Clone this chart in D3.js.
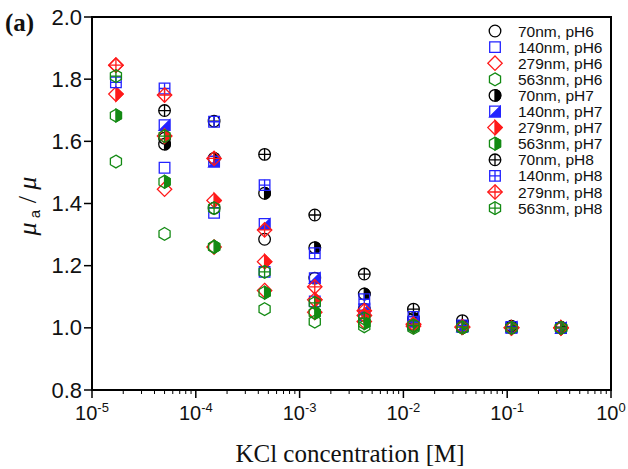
<!DOCTYPE html>
<html>
<head>
<meta charset="utf-8">
<script src="https://cdn.jsdelivr.net/npm/d3@7"></script>
<style>
  body { margin: 0; background: #fff; }
  svg { display: block; }
  .sans { font-family: "Liberation Sans", Arimo, Arial, Helvetica, sans-serif; }
  .serif { font-family: "Liberation Serif", "Times New Roman", Times, serif; }
</style>
</head>
<body>
<svg id="chart" width="628" height="469"></svg>
<script>
// KCl concentrations (M)
const conc = [1.7e-5, 5.0e-5, 1.5e-4, 4.6e-4, 1.4e-3, 4.2e-3, 1.25e-2, 3.7e-2, 1.1e-1, 3.3e-1]

// series: size, pH, values of mu_a / mu (null = not measured)
const labels = ['70nm, pH6', '140nm, pH6', '279nm, pH6', '563nm, pH6',
  '70nm, pH7', '140nm, pH7', '279nm, pH7', '563nm, pH7',
  '70nm, pH8', '140nm, pH8', '279nm, pH8', '563nm, pH8']

const v70pH6 = [null, 1.61, 1.385, 1.285, 1.16, 1.06, 1.01, 1.005, 1.0, 1.0]
const v140pH6 = [null, 1.515, 1.37, 1.18, 1.085, 1.04, 1.01, 1.003, 1.0, 1.0]
const v279pH6 = [1.845, 1.446, 1.26, 1.12, 1.05, 1.02, 1.005, 1.002, 1.0, 1.0]
const v563pH6 = [1.535, 1.302, 1.26, 1.06, 1.02, 1.005, 1.0, 1.0, 1.0, 1.0]
const v70pH7 = [null, 1.591, 1.545, 1.433, 1.258, 1.109, 1.03, 1.005, 1.002, 1.0]
const v140pH7 = [null, 1.652, 1.535, 1.334, 1.16, 1.06, 1.02, 1.005, 1.002, 1.0]
const v279pH7 = [1.752, 1.617, 1.41, 1.213, 1.09, 1.04, 1.01, 1.003, 1.0, 1.0]
const v563pH7 = [1.683, 1.47, 1.261, 1.113, 1.048, 1.015, 1.005, 1.0, 1.0, 1.0]
const v70pH8 = [null, 1.699, 1.665, 1.558, 1.363, 1.173, 1.06, 1.023, 1.005, 1.002]
const v140pH8 = [1.79, 1.77, 1.663, 1.459, 1.24, 1.092, 1.035, 1.008, 1.003, 1.0]
const v279pH8 = [1.845, 1.749, 1.545, 1.315, 1.132, 1.055, 1.012, 1.003, 1.0, 1.0]
const v563pH8 = [1.81, 1.617, 1.385, 1.18, 1.08, 1.03, 1.008, 1.002, 1.0, 1.0]

const values = [v70pH6, v140pH6, v279pH6, v563pH6, v70pH7, v140pH7, v279pH7, v563pH7, v70pH8, v140pH8, v279pH8, v563pH8]

const xTicks = [1e-5, 1e-4, 1e-3, 1e-2, 1e-1, 1]
const xTickExp = ['-5', '-4', '-3', '-2', '-1', '0']
const yTicks = [0.8, 1.0, 1.2, 1.4, 1.6, 1.8, 2.0]

const colors = ['#000', '#2323ff', '#ff1a1a', '#138a13']
const shapes = ['circle', 'square', 'diamond', 'hexagon']
const fills = ['open', 'half', 'cross']

const svg = d3.select('#chart')
const margin = { top: 17, right: 17, bottom: 79, left: 92 }
const width = 628 - margin.left - margin.right
const height = 469 - margin.top - margin.bottom

const x = d3.scaleLog().domain([1e-5, 1]).range([margin.left, margin.left + width])
const y = d3.scaleLinear().domain([0.8, 2.0]).range([margin.top + height, margin.top])

// outline + optional half fill / cross for one marker
function marker (g, shape, mode, color) {
  let outline, half, cx, cy
  if (shape === 'circle') {
    const r = 5.8
    outline = `M${r},0A${r},${r} 0 1 1 ${-r},0A${r},${r} 0 1 1 ${r},0Z`
    half = `M0,${-r}A${r},${r} 0 0 1 0,${r}Z`
    cx = cy = r
  } else if (shape === 'square') {
    const s = 5.3
    outline = `M${-s},${-s}H${s}V${s}H${-s}Z`
    half = `M${s},${-s}L${s},${s}L${-s},${s}Z`
    cx = cy = s
  } else if (shape === 'diamond') {
    const d = 7.2
    outline = `M0,${-d}L${d},0L0,${d}L${-d},0Z`
    half = `M0,${-d}L${d},0L0,${d}Z`
    cx = cy = d
  } else {
    const r = 6.4
    const c = r * Math.cos(Math.PI / 6)
    outline = `M0,${-r}L${c},${-r / 2}L${c},${r / 2}L0,${r}L${-c},${r / 2}L${-c},${-r / 2}Z`
    half = `M0,${-r}L${c},${-r / 2}L${c},${r / 2}L0,${r}Z`
    cx = c
    cy = r
  }
  g.append('path').attr('d', outline).attr('fill', 'none').attr('stroke', color).attr('stroke-width', 1.3)
  if (mode === 'half') {
    g.append('path').attr('d', half).attr('fill', color).attr('stroke', color).attr('stroke-width', 1.3)
  }
  if (mode === 'cross') {
    g.append('path')
      .attr('d', `M${-cx},0H${cx}M0,${-cy}V${cy}`)
      .attr('stroke', color).attr('stroke-width', 1.3)
  }
}

// data points
values.forEach((vals, i) => {
  const shape = shapes[i % 4]
  const mode = fills[Math.floor(i / 4)]
  const color = colors[i % 4]
  vals.forEach((v, j) => {
    if (v === null) return
    const g = svg.append('g').attr('transform', `translate(${x(conc[j])},${y(v)})`)
    marker(g, shape, mode, color)
  })
})

// frame
svg.append('rect')
  .attr('x', margin.left).attr('y', margin.top)
  .attr('width', width).attr('height', height)
  .attr('fill', 'none').attr('stroke', '#000').attr('stroke-width', 2)

// x axis
const xAxis = svg.append('g')
xTicks.forEach((t, i) => {
  xAxis.append('line').attr('x1', x(t)).attr('x2', x(t))
    .attr('y1', margin.top + height).attr('y2', margin.top + height + 8)
    .attr('stroke', '#000').attr('stroke-width', 1.5)
  const lab = xAxis.append('text')
    .attr('class', 'sans')
    .attr('x', x(t)).attr('y', margin.top + height + 30)
    .attr('text-anchor', 'middle')
    .attr('font-size', 20).attr('fill', '#111')
  lab.append('tspan').text('10')
  lab.append('tspan').attr('dy', -8).attr('font-size', 13).text(xTickExp[i])
})
for (let e = -5; e < 0; e++) {
  for (let k = 2; k <= 9; k++) {
    const t = k * Math.pow(10, e)
    xAxis.append('line').attr('x1', x(t)).attr('x2', x(t))
      .attr('y1', margin.top + height).attr('y2', margin.top + height + 4)
      .attr('stroke', '#000').attr('stroke-width', 1)
  }
}

// y axis
const yAxis = svg.append('g')
yTicks.forEach((t) => {
  yAxis.append('line').attr('x1', margin.left - 8).attr('x2', margin.left)
    .attr('y1', y(t)).attr('y2', y(t))
    .attr('stroke', '#000').attr('stroke-width', 1.5)
  yAxis.append('text')
    .attr('class', 'sans')
    .attr('x', margin.left - 10).attr('y', y(t) + 7.5)
    .attr('text-anchor', 'end')
    .attr('font-size', 22).attr('fill', '#111')
    .text(t.toFixed(1))
})

// axis titles
svg.append('text')
  .attr('class', 'serif')
  .attr('x', 350).attr('y', 462)
  .attr('text-anchor', 'middle')
  .attr('font-size', 25).attr('fill', '#111')
  .text('KCl concentration [M]')

const yt = svg.append('text')
  .attr('class', 'serif')
  .attr('transform', 'translate(36,206) rotate(-90)')
  .attr('text-anchor', 'middle')
  .attr('font-size', 26).attr('fill', '#111')
yt.append('tspan').attr('font-style', 'italic').text('μ')
yt.append('tspan').attr('class', 'sans').attr('dy', 4).attr('font-size', 15).text(' a')
yt.append('tspan').attr('dy', -4).text(' / ')
yt.append('tspan').attr('font-style', 'italic').text('μ')

svg.append('text')
  .attr('class', 'serif')
  .attr('x', 5).attr('y', 31)
  .attr('font-weight', 'bold')
  .attr('font-size', 25).attr('fill', '#111')
  .text('(a)')

// legend
const legend = svg.append('g')
labels.forEach((lab, i) => {
  const ly = 31 + i * 16.1
  const g = legend.append('g').attr('transform', `translate(495,${ly})`)
  marker(g, shapes[i % 4], fills[Math.floor(i / 4)], colors[i % 4])
  legend.append('text')
    .attr('class', 'sans')
    .attr('x', 518).attr('y', ly + 5.5)
    .attr('font-size', 15.5).attr('fill', '#111')
    .text(lab)
})
</script>
</body>
</html>
